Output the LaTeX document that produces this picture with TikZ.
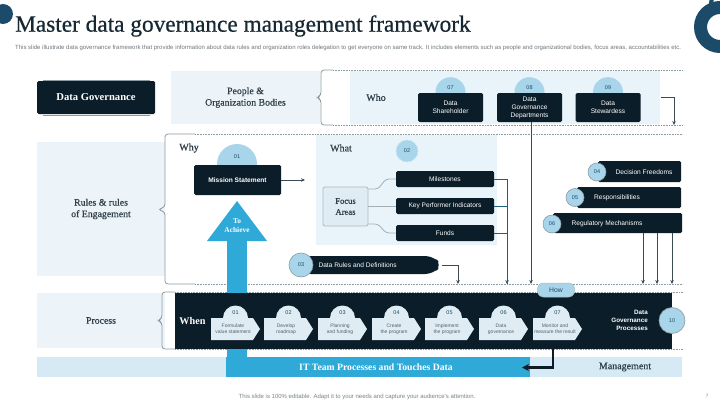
\documentclass[tikz,border=0pt]{standalone}
\usepackage{fontspec}
\setmainfont{Liberation Serif}
\setsansfont{Liberation Sans}
\newfontfamily\semiserif[FakeBold=0.6]{Liberation Serif}
\usetikzlibrary{arrows.meta,calc}
\definecolor{ink}{HTML}{0B1D28}
\definecolor{panel}{HTML}{ECF4FA}
\definecolor{panelb}{HTML}{E8F3FA}
\definecolor{bubble}{HTML}{A9D5EA}
\definecolor{sky}{HTML}{2FA9D8}
\definecolor{pale}{HTML}{D5EAF5}
\definecolor{navy}{HTML}{1B4B69}
\definecolor{chev}{HTML}{DFECF4}
\definecolor{edge}{HTML}{8C9AA3}
\tikzset{
  panelbox/.style={fill=panel,draw=none},
  darkbox/.style={fill=ink,draw=none,rounded corners=1.5pt,text=white,align=center,font=\sffamily\fontsize{6.6}{8}\selectfont},
  bub/.style={circle,fill=bubble,draw=none,inner sep=0pt,text=navy,font=\sffamily\fontsize{5.5}{6}\selectfont},
  rbub/.style={bub,draw=edge,line width=.6pt},
  slabel/.style={align=center,text=ink!85,font=\semiserif\fontsize{9.8}{11.5}\selectfont},
  wlabel/.style={text=ink!85,font=\semiserif\fontsize{10}{11}\selectfont},
  frameln/.style={draw=edge,line width=.8pt,rounded corners=3pt},
  dotln/.style={draw=edge,line width=.6pt,densely dotted},
  conn/.style={draw=ink!80,line width=.8pt,-{Stealth[length=4pt,width=3.5pt]}},
  tealconn/.style={draw=navy!80!sky,line width=.8pt},
  greyconn/.style={draw=edge!80!white,line width=.8pt,rounded corners=3pt},
  steptxt/.style={align=center,text=ink!70,font=\sffamily\fontsize{5}{6.2}\selectfont},
  listtxt/.style={text=white,font=\sffamily\fontsize{6.6}{8}\selectfont},
}
\newcommand{\stepshape}[4]{% x-left, number, label, name
  \fill[chev] (#1+12,318) arc[start angle=180,end angle=360,radius=12.5] -- cycle;
  \node[text=navy,font=\sffamily\fontsize{5.5}{6}\selectfont] at (#1+24.5,313) {#2};
  \fill[chev] (#1,318) -- (#1+42,318) -- (#1+49,329) -- (#1+42,340) -- (#1,340) -- cycle;
  \node[steptxt] (#4) at (#1+22,329) {#3};
}
\begin{document}
\begin{tikzpicture}[x=1pt,y=-1pt]
\path[use as bounding box] (0,0) rectangle (720,404);
\fill[white] (0,0) rectangle (720,404);
\begin{scope}
\clip (0,0) rectangle (720,404);
\fill[navy] (3,14) circle (10);
\draw[navy,line width=13pt] (720,27) circle (19.5);
\draw[navy,line width=4pt] (720,3) circle (9);
\end{scope}
\node[anchor=west,inner sep=0pt,text=ink!95,font=\semiserif\fontsize{23.3}{26}\selectfont] (title) at (15,26) {Master data governance management framework};
\node[anchor=west,inner sep=0pt,text=ink!60,font=\sffamily\fontsize{6}{7}\selectfont] (sub) at (15,47.5) {This slide illustrate data governance framework that provide information about data rules and organization roles delegation to get everyone on same track. It includes elements such as people and organizational bodies, focus areas, accountabilities etc.};

% left column
\draw[edge,line width=.8pt] (43,80) -- (150,80) (43,115) -- (150,115);
\node[darkbox,minimum width=118pt,minimum height=33pt,font=\fontsize{10.6}{12}\selectfont\bfseries] (dg) at (96,97.5) {Data Governance};
\node[panelbox,minimum width=149pt,minimum height=53pt,slabel] (people) at (245.5,97.5) {People \&\\Organization Bodies};
\node[panelbox,minimum width=128pt,minimum height=134pt,slabel] (rules) at (101,209) {Rules \& rules\\of Engagement};
\node[panelbox,minimum width=128pt,minimum height=55pt,slabel] (process) at (101,320.5) {Process};

% bottom bar
\fill[pale] (37,357) rectangle (682,377);
\fill[sky] (226,357) rectangle (530,377);
\node[font=\fontsize{9.7}{11}\selectfont\bfseries,text=white] (it) at (376,367) {IT Team Processes and Touches Data};
\node[slabel,font=\semiserif\fontsize{10}{11}\selectfont] (mgmt) at (625,367) {Management};

% panels
\fill[panelb] (350,71) rectangle (660,124);
\fill[panelb] (316,135) rectangle (497,245);

% frames
\draw[frameln] (333,70) -| (321,95) -- (317,97.5) -- (321,100) |- (333,125);
\draw[frameln] (195,134) -| (165,207) -- (158,209.5) -- (165,212) |- (195,284);
\draw[frameln] (175,292) -| (162,318) -- (158,320.5) -- (162,323) |- (175,349);
\draw[dotln] (333,70) -- (683,70) (333,125) -- (683,125);
\draw[dotln] (195,134) -- (683,134) (195,284) -- (683,284);
\draw[dotln] (175,292) -- (683,292) (175,349) -- (683,349);

% To Achieve arrow
\fill[sky] (227,241) rectangle (247,357);
\fill[sky] (237,201) -- (267,241) -- (207,241) -- cycle;
\node[align=center,text=white,font=\fontsize{7.4}{9}\selectfont\bfseries] (achieve) at (237,226) {To\\Achieve};

% who
\node[wlabel] (who) at (376,97.5) {Who};
\node[bub,minimum size=30pt,anchor=north] (b7) at (450.5,77) {\raisebox{10pt}{07}};
\node[bub,minimum size=30pt,anchor=north] (b8) at (529.5,77) {\raisebox{10pt}{08}};
\node[bub,minimum size=30pt,anchor=north] (b9) at (608,77) {\raisebox{10pt}{09}};
\node[darkbox,minimum width=65pt,minimum height=29pt] (shar) at (450.5,107.5) {Data\\Shareholder};
\node[darkbox,minimum width=65pt,minimum height=29pt] (dept) at (529.5,107.5) {Data\\Governance\\Departments};
\node[darkbox,minimum width=65pt,minimum height=29pt] (stew) at (608,107.5) {Data\\Stewardess};

% why
\node[wlabel] (why) at (189,148) {Why};
\node[bub,minimum size=40pt] (b1) at (237,164) {\raisebox{15pt}{01}};
\node[darkbox,minimum width=87pt,minimum height=30pt,font=\sffamily\bfseries\fontsize{6.6}{8}\selectfont] (mission) at (237.5,180) {Mission Statement};
\coordinate (missionend) at (305,180);
\draw[conn] (mission) -- (missionend);

% what
\node[wlabel] (what) at (341,148) {What};
\node[bub,minimum size=22pt,draw=bubble!60!white] (b2) at (407,151) {02};
\node[draw=edge!70!white,fill=chev,rounded corners=2pt,line width=.8pt,minimum width=45pt,minimum height=39pt,slabel,font=\semiserif\fontsize{8.6}{11}\selectfont] (focus) at (345.5,206.5) {Focus\\Areas};
\node[darkbox,minimum width=98pt,minimum height=16pt] (miles) at (445,179) {Milestones};
\node[darkbox,minimum width=98pt,minimum height=16pt] (kpi) at (445,206) {Key Performer Indicators};
\node[darkbox,minimum width=98pt,minimum height=16pt] (funds) at (445,233) {Funds};
\draw[greyconn] (focus.east |- 0,189) -- (378,189) -- (386,179) -- (miles.west);
\draw[greyconn] (focus.east |- kpi) -- (kpi.west);
\draw[greyconn] (focus.east |- 0,224) -- (378,224) -- (386,233) -- (funds.west);
\coordinate (busend) at (507,284);
\draw[tealconn] (miles.east) -| (busend);
\draw[tealconn] (kpi.east) -- (kpi.east -| busend);
\draw[tealconn] (funds.east) -- (funds.east -| busend);
\draw[conn,draw=navy!80!sky] (507,275) -- (busend);

% 03 pill
\fill[ink,rounded corners=8pt] (303,256) -- (433,256) -- (442,265) -- (433,274) -- (303,274) -- cycle;
\node[anchor=west,listtxt] (rules3) at (315,265) {Data Rules and Definitions};
\node[rbub,minimum size=24pt] (b3) at (301,265) {03};
\coordinate (c3a) at (458,265);
\coordinate (c3b) at (458,284);
\coordinate (c3s) at (442,265);
\draw[conn] (c3s) -- (c3a) -- (c3b);

% right list
\fill[ink,rounded corners=1.5pt] (598,161) rectangle (681,182);
\fill[ink,rounded corners=1.5pt] (577,187) rectangle (681,208);
\node[rectangle,fill=ink,rounded corners=1.5pt,minimum width=129pt,minimum height=20pt,inner sep=0pt] (regbar) at (617.5,223) {};
\node[listtxt] (free) at (644,172) {Decision Freedoms};
\node[listtxt] (resp) at (617,197.5) {Responsibilities};
\node[listtxt] (reg) at (607,224) {Regulatory Mechanisms};
\node[rbub,minimum size=18pt] (b4) at (597,172) {04};
\node[rbub,minimum size=18pt] (b5) at (575,197.5) {05};
\node[rbub,minimum size=18pt] (b6) at (552,224) {06};
\coordinate (r1) at (643,284);
\coordinate (r2) at (657,284);
\coordinate (r3) at (672,284);
\draw[conn] (regbar.south -| r1) -- (r1);
\draw[conn] (regbar.south -| r2) -- (r2);
\draw[conn] (regbar.south -| r3) -- (r3);

% who elbow & dept line
\coordinate (e1) at (661,97);
\coordinate (e2) at (674,97);
\coordinate (e3) at (674,125);
\draw[conn] (e1) -- (e2) -- (e3);
\coordinate (deptend) at (531,284);
\draw[conn] (dept.south -| deptend) -- (deptend);

% process band
\fill[ink] (175,293) rectangle (672,349);
\node[font=\fontsize{10.2}{12}\selectfont\bfseries,text=white] (when) at (192.5,321) {When};
\stepshape{211}{01}{Formulate\\value statement}{s1}
\stepshape{264}{02}{Develop\\roadmap}{s2}
\stepshape{318}{03}{Planning\\and funding}{s3}
\stepshape{372}{04}{Create\\the program}{s4}
\stepshape{425}{05}{Implement\\the program}{s5}
\stepshape{479}{06}{Data\\governance}{s6}
\stepshape{533}{07}{Monitor and\\measure the result}{s7}
\node[align=right,anchor=east,inner sep=0pt,text=white,font=\sffamily\bfseries\fontsize{6.3}{8}\selectfont] (dgp) at (648,320.5) {Data\\Governance\\Processes};
\node[rbub,minimum size=26pt] (b10) at (672,320.5) {10};
\node[fill=bubble,draw=edge!70!white,line width=.5pt,rounded corners=6pt,minimum width=37pt,minimum height=14pt,inner sep=0pt,text=navy,font=\sffamily\fontsize{6.8}{8}\selectfont] (how) at (556,290) {How};
\coordinate (t1) at (553,349);
\coordinate (t2) at (553,367.5);
\coordinate (t3) at (522,367.5);
\draw[ink,line width=2.5pt,-{Stealth[length=7pt,width=7pt]}] (t1) -- (t2) -- (t3);

\node[text=ink!55,font=\sffamily\fontsize{6}{7}\selectfont] (foot) at (357,397) {This slide is 100\% editable. Adapt it to your needs and capture your audience's attention.};
\node[text=ink!60,font=\sffamily\fontsize{4.5}{6}\selectfont] (pg) at (707,396) {7};
\end{tikzpicture}
\end{document}
